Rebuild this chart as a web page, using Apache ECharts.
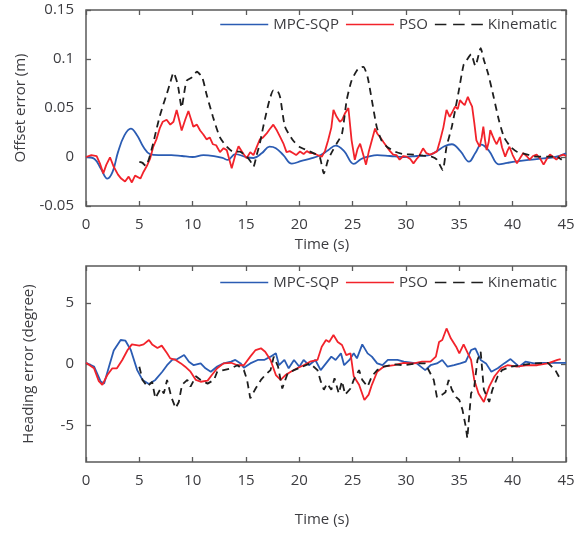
<!DOCTYPE html>
<html>
<head>
<meta charset="utf-8">
<script src="https://cdn.jsdelivr.net/npm/echarts@6/dist/echarts.min.js"></script>
<style>
  html, body { margin: 0; padding: 0; background: #fff; }
  #chart { width: 578px; height: 534px; }
</style>
</head>
<body>
<div id="chart"></div>
<script>
// ---- Offset error (m) ----
const offsetMpcT = [0,0.8,1.4,2.0,2.5,3.0,3.6,4.2,4.8,5.4,6.0,6.8,8,9,10,11,12,12.8,13.3,14.0,15.0,15.7,16.5,17.2,17.8,18.5,19.3,20.2,21.1,22,22.7,23.4,24.2,25.1,25.8,26.5,27.3,28.5,29.8,31,32.2,32.9,33.6,34.3,35.1,35.9,36.5,37.06,37.8,38.7,39.5,40.4,41.5,42.9,44,45];
const offsetMpc = [0,-0.002,-0.012,-0.022,-0.015,0.005,0.022,0.029,0.022,0.010,0.003,0.002,0.002,0.001,0.0,0.002,0.001,-0.001,-0.003,0.003,0.0,-0.001,0.004,0.0105,0.009,0.002,-0.0068,-0.004,-0.0015,0.002,0.007,0.0116,0.006,-0.007,-0.002,0.0005,0.002,0.001,0.0,0.001,0.002,0.006,0.011,0.013,0.006,-0.0048,0.004,0.0126,0.006,-0.0075,-0.006,-0.0045,-0.003,-0.0014,0.0,0.0037];

const offsetPsoT = [0,0.5,1.0,1.3,1.62,1.9,2.25,2.6,3.0,3.3,3.66,4.0,4.3,4.6,5.1,5.4,5.7,6.0,6.3,6.6,6.94,7.2,7.56,7.9,8.2,8.5,8.75,8.97,9.3,9.6,9.8,10.06,10.4,10.7,11.0,11.3,11.6,11.9,12.2,12.56,12.9,13.2,13.66,14.0,14.3,14.7,15.06,15.4,15.7,16.0,16.3,16.6,16.94,17.2,17.56,17.9,18.2,18.5,18.8,19.1,19.4,19.7,20.06,20.4,20.7,21.0,21.3,21.7,22.1,22.4,22.7,23.0,23.2,23.5,23.8,24.0,24.3,24.6,24.9,25.2,25.45,25.7,26.0,26.25,26.5,26.8,27.1,27.3,27.56,27.9,28.2,28.5,28.8,29.1,29.4,29.75,30.06,30.4,30.7,31.0,31.2,31.6,31.9,32.25,32.6,32.9,33.2,33.5,33.8,34.1,34.35,34.6,34.85,35.06,35.3,35.5,35.8,36.0,36.2,36.4,36.6,36.9,37.1,37.25,37.4,37.56,37.75,37.9,38.1,38.3,38.5,38.8,39.0,39.3,39.5,39.7,40.0,40.4,40.7,41.0,41.3,41.6,41.9,42.25,42.6,42.9,43.2,43.5,43.8,44.1,44.4,44.75,45];
const offsetPso = [0,0.002,0.001,-0.0065,-0.0167,-0.008,-0.0003,-0.01,-0.018,-0.022,-0.025,-0.02,-0.026,-0.019,-0.022,-0.015,-0.0092,-0.002,0.0102,0.018,0.03,0.036,0.038,0.033,0.036,0.048,0.037,0.027,0.038,0.047,0.04,0.031,0.033,0.027,0.023,0.018,0.02,0.013,0.012,0.005,0.009,0.007,-0.0115,0.002,0.011,0.004,-0.0013,0.005,0.002,0.01,0.018,0.02,0.024,0.028,0.033,0.027,0.0205,0.014,0.005,0.006,0.004,0.002,0.0056,0.003,0.006,0.004,0.004,0.002,0.0003,0.006,0.017,0.03,0.048,0.041,0.036,0.0377,0.045,0.05,0.017,-0.0028,0.008,0.0136,0.002,-0.0078,0.005,0.017,0.029,0.024,0.0204,0.015,0.0105,0.006,0.0025,0.002,-0.0027,0.001,0.0003,-0.002,-0.0065,-0.002,0.0003,0.0088,0.004,0.0025,0.004,0.0057,0.017,0.03,0.048,0.041,0.046,0.0514,0.049,0.058,0.055,0.053,0.0615,0.056,0.0514,0.035,0.017,0.0105,0.02,0.031,0.018,0.0071,0.015,0.0275,0.022,0.017,0.013,0.0204,0.01,0.0003,0.006,0.0105,0.002,-0.0065,-0.001,0.004,0.001,-0.0027,0.001,0.0025,-0.002,-0.0078,-0.002,0.0025,0.0,-0.0027,0.001,0.0025,0.001];

const offsetKinT = [5.0,5.3,5.6,5.9,6.3,6.6,6.9,7.2,7.56,7.9,8.2,8.6,8.97,9.2,9.44,9.9,10.4,10.9,11.3,11.9,12.56,13.2,13.8,14.4,15.06,15.4,15.7,16.0,16.3,16.6,16.9,17.2,17.56,17.9,18.2,18.65,19.4,20.0,20.7,21.3,21.9,22.3,22.7,23.1,23.5,24.0,24.44,24.9,25.5,26.0,26.4,26.8,27.25,27.7,28.2,29.0,29.75,30.7,31.6,32.4,32.9,33.44,33.8,34.3,34.9,35.4,35.7,36.1,36.5,37.0,37.3,37.7,38.2,38.7,39.2,39.8,40.4,41.4,42.25,43.2,44.1,44.6];
const offsetKin = [-0.005,-0.006,-0.009,-0.002,0.014,0.028,0.041,0.052,0.064,0.076,0.086,0.074,0.0505,0.065,0.078,0.081,0.087,0.081,0.064,0.041,0.020,0.0105,0.0054,0.0054,0.0003,-0.004,-0.0098,0.002,0.014,0.03,0.0447,0.058,0.068,0.068,0.061,0.031,0.017,0.0105,0.007,0.004,0.0003,-0.0167,-0.0027,0.006,0.0136,0.0238,0.058,0.078,0.090,0.092,0.0816,0.058,0.031,0.017,0.0105,0.0054,0.003,0.0025,0.0013,0.0003,-0.0027,-0.0133,0.0105,0.031,0.0646,0.094,0.099,0.105,0.093,0.111,0.099,0.085,0.062,0.038,0.020,0.0105,0.0054,0.0025,0.0003,0.0003,0.0003,-0.0027];

// ---- Heading error (degree) ----
const headMpcT = [0,0.75,1.38,1.7,2.16,2.6,3.25,3.7,4.2,4.8,5.3,5.9,6.5,7.15,7.6,8.1,8.56,9.2,9.65,10.1,10.75,11.2,11.7,12.3,12.9,13.6,14.0,14.5,14.8,15.4,16.1,16.7,17.3,17.8,18.1,18.6,19.0,19.5,20.0,20.4,20.9,21.5,22.0,22.5,23.0,23.4,23.9,24.2,24.7,25.1,25.4,25.9,26.4,26.8,27.3,27.8,28.3,29.2,29.8,31.0,31.8,32.3,32.9,33.4,33.9,34.5,35.1,35.6,36.1,36.5,37.0,37.5,38.0,38.6,39.2,39.8,40.6,41.2,42.0,42.9,44.2,45];
const headMpc = [0.1,-0.2,-1.44,-1.6,-0.2,1.1,1.96,1.9,1.14,-0.5,-1.3,-1.63,-1.3,-0.63,-0.1,0.35,0.4,0.73,0.19,-0.1,0.05,-0.35,-0.63,-0.2,0.05,0.19,0.33,0.05,-0.3,0.05,0.33,0.33,0.6,0.87,-0.1,0.33,-0.35,0.33,-0.22,0.33,-0.1,0.33,-0.5,0.05,0.6,0.33,0.87,-0.1,0.33,0.87,0.46,1.6,0.87,0.6,0.05,-0.1,0.33,0.33,0.19,0.05,-0.5,-0.1,0.05,0.33,-0.22,-0.1,0.05,0.19,1.14,1.28,0.33,0.05,-0.63,-0.35,0.05,0.4,-0.22,0.19,0.05,0.1,0.1,0.1];

const headPsoT = [0,0.75,1.2,1.53,2.0,2.47,2.9,3.4,3.9,4.3,5.0,5.4,5.9,6.2,6.7,7.1,7.6,7.9,8.4,8.9,9.3,9.8,10.3,10.75,11.4,11.8,12.3,12.9,13.6,14.2,14.8,15.4,15.9,16.4,16.8,17.3,17.8,18.25,18.7,19.2,19.8,20.4,21.0,21.7,22.1,22.5,22.8,23.2,23.6,24.0,24.4,24.8,25.1,25.6,26.1,26.5,26.8,27.3,27.9,28.9,29.8,30.75,31.5,32.3,32.8,33.1,33.4,33.8,34.2,34.7,35.0,35.4,35.8,36.1,36.4,36.8,37.3,37.8,38.3,38.9,39.5,40.4,41.4,42.3,43.3,44.2,44.5];
const headPso = [0.1,-0.35,-1.4,-1.7,-0.9,-0.35,-0.35,0.33,1.14,1.6,1.5,1.6,1.96,1.6,1.3,1.5,0.87,0.46,0.33,0.05,-0.22,-0.63,-1.3,-1.45,-1.36,-0.9,-0.35,0.05,0.1,-0.1,-0.1,0.6,1.14,1.28,1.0,0.33,-0.9,-1.3,-0.9,-0.63,-0.35,-0.1,0.19,0.33,1.41,1.96,1.8,2.37,1.8,1.55,0.73,0.87,-1.0,-1.7,-2.94,-2.5,-1.7,-0.63,-0.22,-0.1,0.1,0.05,0.19,0.19,0.6,1.8,1.96,2.9,2.1,1.41,0.87,1.6,0.87,0.33,-1.3,-2.4,-3.1,-1.85,-1.0,-0.35,-0.1,-0.22,-0.1,-0.1,0.05,0.33,0.4];

const headKinT = [5.0,5.3,5.75,6.2,6.5,7.0,7.3,7.6,8.0,8.4,8.7,9.0,9.5,9.8,10.3,10.75,11.4,12.0,12.3,12.9,13.6,14.2,14.8,15.1,15.4,15.9,16.4,16.8,17.3,17.6,18.0,18.4,18.9,19.5,20.3,21.0,21.7,22.0,22.3,22.6,23.0,23.3,23.7,24.0,24.3,24.8,25.1,25.6,25.9,26.4,26.8,27.3,27.9,28.9,29.8,31.0,31.8,32.6,32.9,33.4,33.7,34.0,34.3,34.7,35.0,35.3,35.6,35.75,36.1,36.4,36.7,37.0,37.3,37.8,38.1,38.6,39.0,39.8,40.75,42.0,43.3,44.0,44.5];
const headKin = [-0.22,-1.3,-1.85,-1.45,-2.8,-2.0,-2.4,-1.3,-2.7,-3.6,-3.1,-1.7,-1.3,-1.85,-1.0,-1.3,-1.6,-1.3,-0.63,-0.5,-0.35,-0.1,-0.5,-1.3,-2.8,-2.0,-1.3,-0.9,-0.5,0.6,-0.2,-2.0,-0.77,-0.5,-0.22,0.05,-0.5,-1.4,-2.1,-1.6,-2.1,-1.17,-2.4,-1.4,-2.5,-2.0,-1.3,-0.5,-1.3,-1.85,-1.0,-0.5,-0.22,-0.03,-0.1,0.05,0.05,-1.3,-2.7,-2.5,-2.3,-1.3,-2.1,-2.7,-2.94,-3.76,-5.1,-6.07,-2.4,-1.85,0.33,1.0,-2.1,-3.1,-2.1,-1.0,-0.5,-0.22,-0.1,0.05,0.1,-0.5,-1.3];

// ---- Axis setup ----
const timeRange = [0, 45];
const timeStep = 5;
const offsetRange = [-0.05, 0.15];
const offsetStep = 0.05;
const headRange = [-8, 8];
const headTicks = [-5, 0, 5];

const seriesNames = ['MPC-SQP', 'PSO', 'Kinematic'];
const seriesColors = ['#2b5cb3', '#f2232b', '#1e1e1e'];

// legend keys: a solid stroke and a three-dash stroke
const solidKey = 'path://M0,0h50v1.8h-50z';
const dashKey = 'path://M0,0h12v1.8h-12z M19,0h12v1.8h-12z M38,0h12v1.8h-12z';
const legendKeys = [solidKey, solidKey, dashKey];

const zip = (ts, vs) => ts.map((t, i) => [t, vs[i]]);

const FONT = 'Open Sans';
const TXT = '#3c3c40';
const FRAME = '#5a5a5a';

const grids = [
  { left: 86, top: 10, width: 480, height: 196 },
  { left: 86, top: 266, width: 480, height: 196 }
];

function timeAxis(gridIndex, mirror, nameGap) {
  return {
    type: 'value', gridIndex, min: timeRange[0], max: timeRange[1], interval: timeStep,
    position: mirror ? 'top' : 'bottom',
    name: mirror ? '' : 'Time (s)', nameLocation: 'middle', nameGap,
    nameTextStyle: { fontFamily: FONT, fontSize: 15, color: TXT, padding: [0, 8, 0, 0] },
    axisLine: { show: false, onZero: false },
    axisTick: { show: true, inside: true, length: 5, lineStyle: { color: FRAME, width: 1.3 } },
    axisLabel: { show: !mirror, margin: 11, fontFamily: FONT, fontSize: 15, color: TXT },
    splitLine: { show: false }
  };
}

function valueAxis(gridIndex, mirror, extra) {
  return Object.assign({
    type: 'value', gridIndex,
    position: mirror ? 'right' : 'left',
    nameLocation: 'middle', nameRotate: 90,
    nameTextStyle: { fontFamily: FONT, fontSize: 15, color: TXT },
    axisLine: { show: false, onZero: false },
    axisTick: { show: true, inside: true, length: 5, lineStyle: { color: FRAME, width: 1.3 } },
    axisLabel: { show: !mirror, margin: 12, fontFamily: FONT, fontSize: 15, color: TXT },
    splitLine: { show: false }
  }, extra);
}

const yAxes = [
  valueAxis(0, false, { min: offsetRange[0], max: offsetRange[1], interval: offsetStep, name: 'Offset error (m)', nameGap: 55 }),
  valueAxis(0, true, { min: offsetRange[0], max: offsetRange[1], interval: offsetStep }),
  valueAxis(1, false, { min: headRange[0], max: headRange[1], name: 'Heading error (degree)', nameGap: 50 }),
  valueAxis(1, true, { min: headRange[0], max: headRange[1] })
];
// heading axis: ticks only at -5, 0, 5
[2, 3].forEach(i => {
  yAxes[i].axisTick.customValues = headTicks;
  yAxes[i].axisLabel.customValues = headTicks;
});

function lineSeries(idx, xAxisIndex, yAxisIndex, data, smooth) {
  const dashed = idx === 2;
  return {
    name: seriesNames[idx], type: 'line', xAxisIndex, yAxisIndex,
    data, symbol: 'none', showSymbol: false, smooth: smooth || false,
    lineStyle: { color: seriesColors[idx], width: 1.8, type: dashed ? [7, 5] : 'solid' },
    itemStyle: { color: seriesColors[idx] },
    z: 2 + idx
  };
}

function legend(top) {
  return {
    top, right: 16, itemWidth: 48, itemHeight: 10, itemGap: 7,
    data: seriesNames.map((n, i) => ({ name: n, icon: legendKeys[i], itemStyle: { color: seriesColors[i] } })),
    textStyle: { fontFamily: FONT, fontSize: 15, color: TXT },
    selectedMode: false
  };
}

const chart = echarts.init(document.getElementById('chart'), null, { renderer: 'canvas' });
chart.setOption({
  animation: false,
  backgroundColor: '#ffffff',
  grid: grids.map(g => Object.assign({ show: true, borderColor: FRAME, borderWidth: 1.5, backgroundColor: 'transparent' }, g)),
  legend: [legend(12), legend(270)],
  xAxis: [timeAxis(0, false, 31), timeAxis(0, true, 0), timeAxis(1, false, 50), timeAxis(1, true, 0)],
  yAxis: yAxes,
  series: [
    lineSeries(0, 0, 0, zip(offsetMpcT, offsetMpc), 0.4),
    lineSeries(1, 0, 0, zip(offsetPsoT, offsetPso)),
    lineSeries(2, 0, 0, zip(offsetKinT, offsetKin), 0.2),
    lineSeries(0, 2, 2, zip(headMpcT, headMpc)),
    lineSeries(1, 2, 2, zip(headPsoT, headPso)),
    lineSeries(2, 2, 2, zip(headKinT, headKin))
  ]
});
</script>
</body>
</html>
